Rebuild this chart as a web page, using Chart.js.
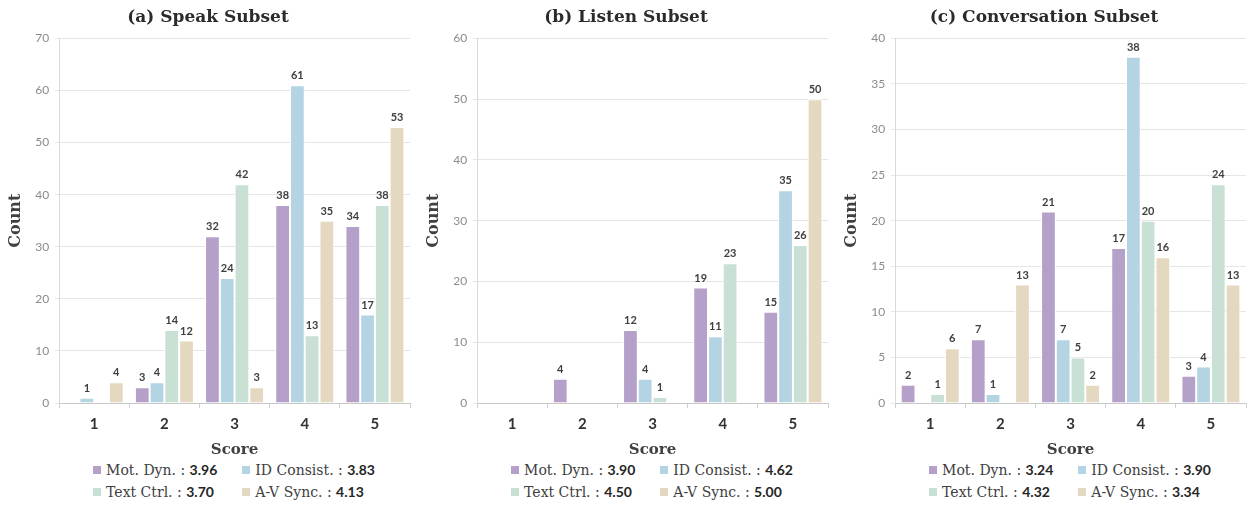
<!DOCTYPE html>
<html>
<head>
<meta charset="utf-8">
<script src="https://cdn.jsdelivr.net/npm/chart.js@4.4.1/dist/chart.umd.min.js"></script>
<style>
  body { margin: 0; background: #fff; width: 1254px; height: 508px; overflow: hidden; }
  .row { display: flex; }
  .panel { width: 418px; height: 508px; position: relative; }
  .panel canvas { display: block; }
  .legend {
    position: absolute; top: 461px; left: 0; width: 418px; box-sizing: border-box; padding-left: 50px;
    display: grid; grid-template-columns: auto auto; justify-content: center;
    column-gap: 25px; row-gap: 4px; line-height: 18px;
    font-family: "DejaVu Serif", serif; font-size: 14px; color: #404040;
  }
  .legend span.sw { display: inline-block; width: 8px; height: 8px; margin-right: 5px; vertical-align: 1px; }
  .legend b { font-family: Lato, sans-serif; font-weight: bold; color: #262626; }
</style>
</head>
<body>
<div class="row">
  <div class="panel"><canvas id="c0" width="418" height="459"></canvas><div class="legend" id="l0"></div></div>
  <div class="panel"><canvas id="c1" width="418" height="459"></canvas><div class="legend" id="l1"></div></div>
  <div class="panel"><canvas id="c2" width="418" height="459"></canvas><div class="legend" id="l2"></div></div>
</div>
<script>
// data
const scores = ["1", "2", "3", "4", "5"];
const metricNames = ["Mot. Dyn.", "ID Consist.", "Text Ctrl.", "A-V Sync."];
const metricColors = ["#b4a0c8", "#b4d4e4", "#c8e1d4", "#e4d8c0"];

// (a) Speak
const speakMotDyn = [0, 3, 32, 38, 34];
const speakIdConsist = [1, 4, 24, 61, 17];
const speakTextCtrl = [0, 14, 42, 13, 38];
const speakAvSync = [4, 12, 3, 35, 53];
const speakMeans = ["3.96", "3.83", "3.70", "4.13"];

// (b) Listen
const listenMotDyn = [0, 4, 12, 19, 15];
const listenIdConsist = [0, 0, 4, 11, 35];
const listenTextCtrl = [0, 0, 1, 23, 26];
const listenAvSync = [0, 0, 0, 0, 50];
const listenMeans = ["3.90", "4.62", "4.50", "5.00"];

// (c) Conversation
const convMotDyn = [2, 7, 21, 17, 3];
const convIdConsist = [0, 1, 7, 38, 4];
const convTextCtrl = [1, 0, 5, 20, 24];
const convAvSync = [6, 13, 2, 16, 13];
const convMeans = ["3.24", "3.90", "4.32", "3.34"];

const panels = [
  { title: "(a) Speak Subset", series: [speakMotDyn, speakIdConsist, speakTextCtrl, speakAvSync], means: speakMeans, max: 70, step: 10 },
  { title: "(b) Listen Subset", series: [listenMotDyn, listenIdConsist, listenTextCtrl, listenAvSync], means: listenMeans, max: 60, step: 10 },
  { title: "(c) Conversation Subset", series: [convMotDyn, convIdConsist, convTextCtrl, convAvSync], means: convMeans, max: 40, step: 5 },
];

// numbers above bars (zero bars get none)
const valueLabels = {
  id: "valueLabels",
  afterDatasetsDraw(chart) {
    const ctx = chart.ctx;
    ctx.save();
    ctx.font = "bold 11px Lato";
    ctx.fillStyle = "#404040";
    ctx.textAlign = "center";
    ctx.textBaseline = "bottom";
    chart.data.datasets.forEach((ds, i) => {
      chart.getDatasetMeta(i).data.forEach((bar, j) => {
        const v = ds.data[j];
        if (!v) return;
        ctx.fillText(String(v), bar.x, bar.y - 4);
      });
    });
    ctx.restore();
  }
};

const serif = "DejaVu Serif";

panels.forEach((p, k) => {
  new Chart(document.getElementById("c" + k), {
    type: "bar",
    data: {
      labels: scores,
      datasets: p.series.map((vals, i) => ({
        label: metricNames[i],
        data: vals,
        backgroundColor: metricColors[i],
        borderColor: "#ffffff",
        borderWidth: 1,
        categoryPercentage: 0.84,
        barPercentage: 1.0,
      })),
    },
    options: {
      responsive: false,
      animation: false,
      layout: { padding: { left: 6, right: 8, top: 0, bottom: 0 } },
      plugins: {
        legend: { display: false },
        tooltip: { enabled: false },
        title: {
          display: true,
          text: p.title,
          color: "#2b2b2b",
          font: { family: serif, weight: "bold", size: 17 },
          padding: { top: 7, bottom: 11 },
        },
      },
      scales: {
        x: {
          grid: { display: true, drawOnChartArea: false, offset: true, tickLength: 5, color: "#d0d0d0" },
          border: { color: "#c8c8c8" },
          ticks: { color: "#333333", font: { family: "Lato", weight: "bold", size: 15 }, padding: 7 },
          title: { display: true, text: "Score", color: "#404040", font: { family: serif, weight: "bold", size: 15 }, padding: { top: 1, bottom: 0 } },
        },
        y: {
          min: 0,
          max: p.max,
          ticks: { stepSize: p.step, color: "#8c8c8c", font: { family: "Lato", size: 12 }, padding: 6 },
          grid: { color: "#e6e6e6", tickLength: 4 },
          border: { color: "#d9d9d9" },
          title: { display: true, text: "Count", color: "#404040", font: { family: serif, weight: "bold", size: 16 }, padding: { top: 0, bottom: 4 } },
        },
      },
    },
    plugins: [valueLabels],
  });

  const legend = document.getElementById("l" + k);
  legend.innerHTML = metricNames.map((name, i) =>
    `<div><span class="sw" style="background:${metricColors[i]}"></span>${name} : <b>${p.means[i]}</b></div>`
  ).join("");
});
</script>
</body>
</html>
